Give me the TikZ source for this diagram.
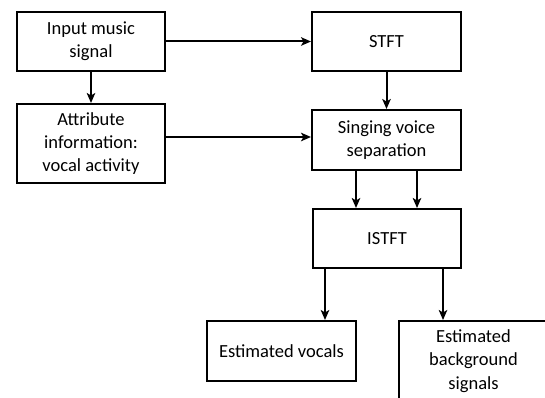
\documentclass[tikz,border=0pt]{standalone}
\usepackage{fontspec}
\setmainfont{Carlito}
\usetikzlibrary{arrows.meta}
\begin{document}
\begin{tikzpicture}[x=1pt,y=-1pt,
  blk/.style={draw=black,line width=2pt,fill=white,align=center,inner sep=0pt,
    font=\fontsize{18.5}{23.3}\selectfont},
  arr/.style={line width=2pt,-{Stealth[length=10pt,width=8.5pt,inset=2.5pt]}}]
\useasboundingbox (0,0) rectangle (545,398);
\node[blk,minimum width=148pt,minimum height=59pt] (inp) at (91,41.5) {Input music\\signal};
\node[blk,minimum width=148pt,minimum height=79pt] (attr) at (91,143.5) {Attribute\\information:\\vocal activity};
\node[blk,minimum width=149pt,minimum height=59pt] (stft) at (386.5,41.5) {STFT};
\node[blk,minimum width=149pt,minimum height=60pt] (sing) at (386.5,140) {Singing voice\\separation};
\node[blk,minimum width=148pt,minimum height=59pt] (istft) at (387,238.5) {ISTFT};
\node[blk,minimum width=149pt,minimum height=60pt] (voc) at (281.5,351) {Estimated vocals};
\node[blk,minimum width=149pt,minimum height=80pt] (bg) at (473.5,361) {Estimated\\background\\signals};
\coordinate (a1) at ([yshift=3pt]sing.west);
\coordinate (s1) at ([xshift=-30.5pt]sing.south);
\coordinate (s2) at ([xshift=30.5pt]sing.south);
\coordinate (i1) at ([xshift=-62pt]istft.south);
\coordinate (i2) at ([xshift=56pt]istft.south);
\draw[arr] (inp.east) -- (stft.west);
\draw[arr] (inp.south) -- (attr.north);
\draw[arr] (stft.south) -- (sing.north);
\draw[arr] (attr.east |- a1) -- (a1);
\draw[arr] (s1) -- (s1 |- istft.north);
\draw[arr] (s2) -- (s2 |- istft.north);
\draw[arr] (i1) -- (i1 |- voc.north);
\draw[arr] (i2) -- (i2 |- bg.north);
\end{tikzpicture}
\end{document}
